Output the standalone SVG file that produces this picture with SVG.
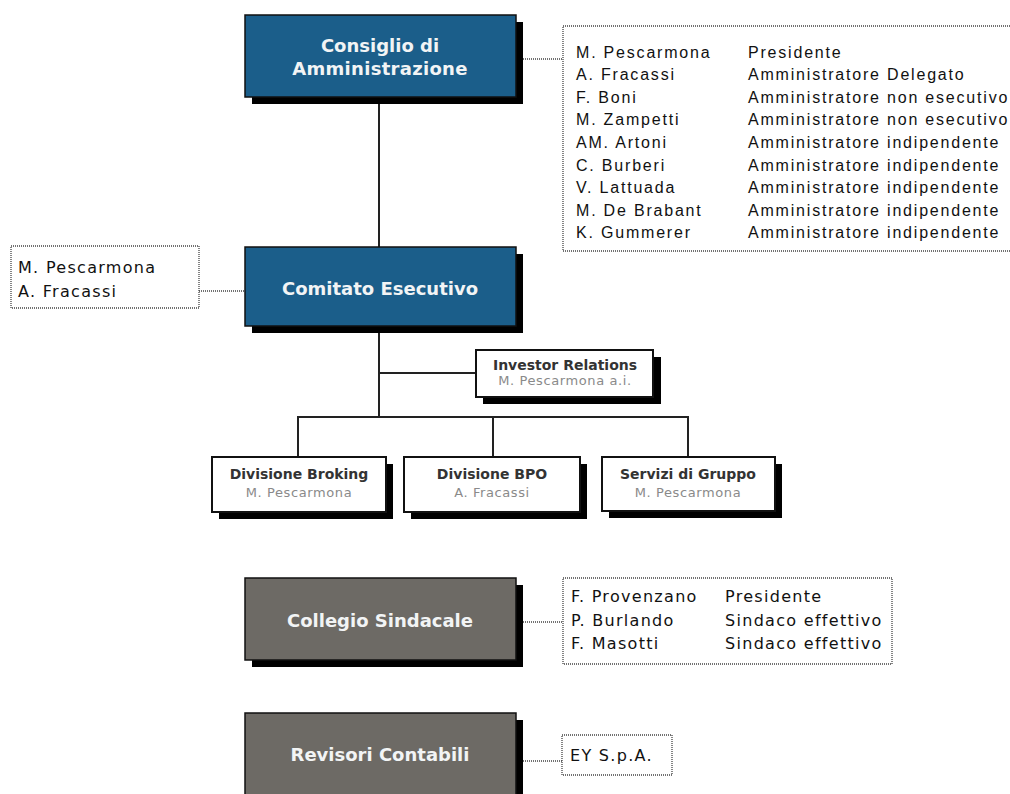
<svg xmlns="http://www.w3.org/2000/svg" width="1010" height="794" viewBox="0 0 1010 794">
<style>
.shadow{fill:#000}
.blue{fill:#1b5e8a;stroke:#111;stroke-width:1.5}
.grey{fill:#6d6a65;stroke:#111;stroke-width:1.5}
.white{fill:#fff;stroke:#111;stroke-width:2}
.dotbox{fill:#fff;stroke:#444;stroke-width:1.3;stroke-dasharray:1 1}
.title{font-family:"DejaVu Sans",sans-serif;font-weight:bold;font-size:18px;fill:#f2f4f5;text-anchor:middle}
.sub{font-family:"DejaVu Sans",sans-serif;font-weight:bold;font-size:14px;fill:#333;text-anchor:middle}
.subname{font-family:"DejaVu Sans",sans-serif;font-size:13px;fill:#8a8a8a;text-anchor:middle;letter-spacing:0.6px}
.list{font-family:"Liberation Sans",Arial,sans-serif;font-size:16px;fill:#111;letter-spacing:1.8px}
.tlist{font-family:"DejaVu Sans",sans-serif;font-size:16px;fill:#111;letter-spacing:1.3px}
.line{stroke:#222;stroke-width:2;fill:none}
.dot{stroke:#444;stroke-width:1.3;stroke-dasharray:1 1;fill:none}
</style>
<rect width="1010" height="794" fill="#fff"/>
<g id="connectors">
<line class="line" x1="379" y1="97" x2="379" y2="247"/>
<line class="line" x1="379" y1="326" x2="379" y2="418"/>
<line class="line" x1="379" y1="373" x2="476" y2="373"/>
<line class="line" x1="297" y1="417" x2="689" y2="417"/>
<line class="line" x1="298" y1="416" x2="298" y2="457"/>
<line class="line" x1="493" y1="416" x2="493" y2="457"/>
<line class="line" x1="688" y1="416" x2="688" y2="457"/>
<line class="dot" x1="523" y1="59" x2="563" y2="59"/>
<line class="dot" x1="199" y1="291" x2="245" y2="291"/>
<line class="dot" x1="523" y1="622" x2="563" y2="622"/>
<line class="dot" x1="523" y1="761" x2="562" y2="761"/>
</g>
<g id="consiglio">
<rect class="shadow" x="252" y="22" width="271" height="82"/>
<rect class="blue" x="245" y="15" width="271" height="82"/>
<text class="title" x="380" y="52">Consiglio di</text>
<text class="title" x="380" y="75" style="letter-spacing:0.3px">Amministrazione</text>
</g>
<g id="consiglio-members">
<rect class="dotbox" x="563" y="26" width="460" height="225"/>
<g class="list">
<text x="576" y="57.5">M. Pescarmona</text>
<text x="576" y="80.1">A. Fracassi</text>
<text x="576" y="102.7">F. Boni</text>
<text x="576" y="125.3">M. Zampetti</text>
<text x="576" y="147.9">AM. Artoni</text>
<text x="576" y="170.5">C. Burberi</text>
<text x="576" y="193.1">V. Lattuada</text>
<text x="576" y="215.7">M. De Brabant</text>
<text x="576" y="238.3">K. Gummerer</text>
<text x="748" y="57.5">Presidente</text>
<text x="748" y="80.1">Amministratore Delegato</text>
<text x="748" y="102.7">Amministratore non esecutivo</text>
<text x="748" y="125.3">Amministratore non esecutivo</text>
<text x="748" y="147.9">Amministratore indipendente</text>
<text x="748" y="170.5">Amministratore indipendente</text>
<text x="748" y="193.1">Amministratore indipendente</text>
<text x="748" y="215.7">Amministratore indipendente</text>
<text x="748" y="238.3">Amministratore indipendente</text>
</g>
</g>
<g id="comitato">
<rect class="shadow" x="252" y="254" width="271" height="79"/>
<rect class="blue" x="245" y="247" width="271" height="79"/>
<text class="title" x="380" y="294.5">Comitato Esecutivo</text>
</g>
<g id="comitato-members">
<rect class="dotbox" x="11" y="246" width="188" height="62"/>
<text class="tlist" x="18" y="273">M. Pescarmona</text>
<text class="tlist" x="18" y="296.5">A. Fracassi</text>
</g>
<g id="investor-relations">
<rect class="shadow" x="483" y="357" width="178" height="47"/>
<rect class="white" x="476" y="350" width="177" height="47"/>
<text class="sub" x="565" y="369.5">Investor Relations</text>
<text class="subname" x="565" y="385">M. Pescarmona a.i.</text>
</g>
<g id="divisione-broking">
<rect class="shadow" x="219" y="464" width="174" height="55"/>
<rect class="white" x="212" y="457" width="174" height="55"/>
<text class="sub" x="299" y="479">Divisione Broking</text>
<text class="subname" x="299" y="496.5">M. Pescarmona</text>
</g>
<g id="divisione-bpo">
<rect class="shadow" x="411" y="464" width="176" height="55"/>
<rect class="white" x="404" y="457" width="176" height="55"/>
<text class="sub" x="492" y="479">Divisione BPO</text>
<text class="subname" x="492" y="496.5">A. Fracassi</text>
</g>
<g id="servizi-gruppo">
<rect class="shadow" x="609" y="464" width="173" height="54"/>
<rect class="white" x="602" y="457" width="173" height="54"/>
<text class="sub" x="688" y="479">Servizi di Gruppo</text>
<text class="subname" x="688" y="496.5">M. Pescarmona</text>
</g>
<g id="collegio">
<rect class="shadow" x="252" y="585" width="271" height="82"/>
<rect class="grey" x="245" y="578" width="271" height="82"/>
<text class="title" x="380" y="627">Collegio Sindacale</text>
</g>
<g id="collegio-members">
<rect class="dotbox" x="563" y="578" width="329" height="86"/>
<text class="tlist" x="571" y="602">F. Provenzano</text>
<text class="tlist" x="571" y="625.5">P. Burlando</text>
<text class="tlist" x="571" y="649">F. Masotti</text>
<text class="tlist" x="725" y="602">Presidente</text>
<text class="tlist" x="725" y="625.5">Sindaco effettivo</text>
<text class="tlist" x="725" y="649">Sindaco effettivo</text>
</g>
<g id="revisori">
<rect class="shadow" x="252" y="720" width="271" height="90"/>
<rect class="grey" x="245" y="713" width="271" height="95"/>
<text class="title" x="380" y="761">Revisori Contabili</text>
</g>
<g id="revisori-firm">
<rect class="dotbox" x="562" y="735" width="110" height="40"/>
<text class="tlist" x="570" y="761">EY S.p.A.</text>
</g>
</svg>
